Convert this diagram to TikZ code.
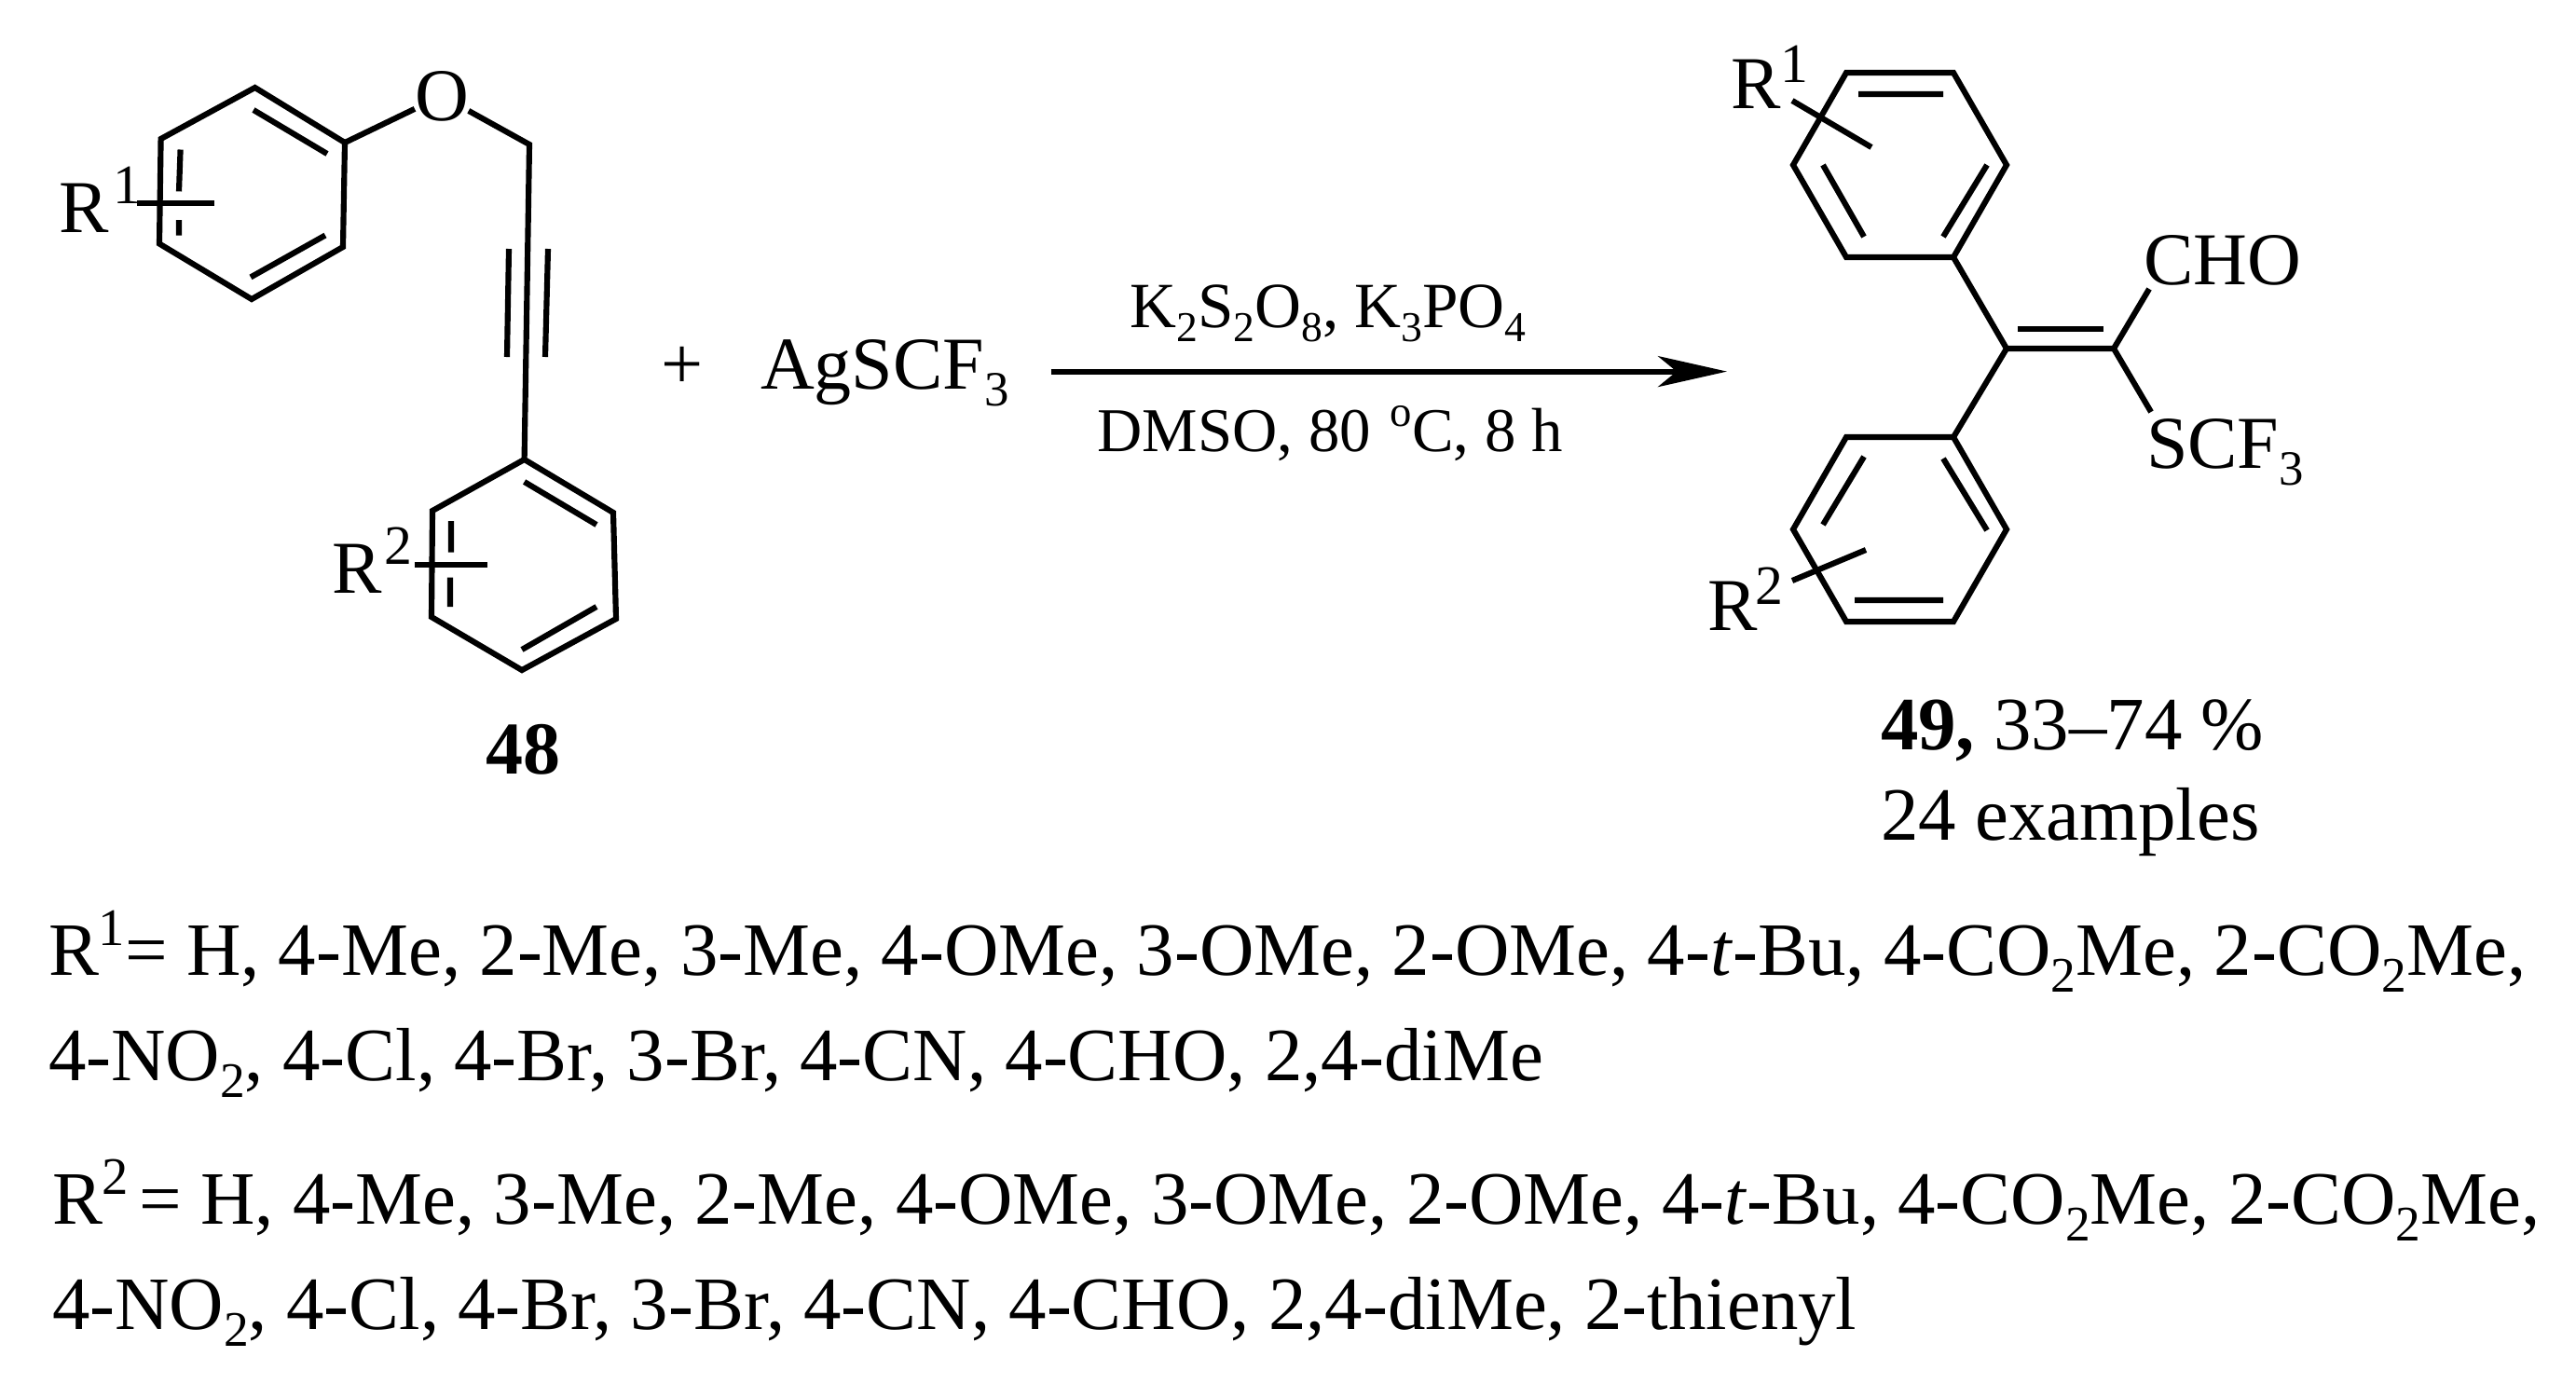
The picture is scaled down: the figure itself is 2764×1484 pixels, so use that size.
\documentclass[tikz,border=0pt]{standalone}
\usepackage{fontspec}
\usepackage{graphicx}
\setmainfont{Liberation Serif}
\usetikzlibrary{arrows.meta}
\newcommand{\chemsub}[1]{\raisebox{-.225em}{\scalebox{.66}{#1}}}
\newcommand{\chemsup}[1]{\raisebox{.39em}{\scalebox{.7}{#1}}}
\tikzset{
  bond/.style={line width=1.75pt,line join=miter,line cap=butt},
  lab/.style={anchor=base west,inner sep=0pt,outer sep=0pt,font=\fontsize{22.76pt}{26pt}\selectfont},
  digit/.style={anchor=base west,inner sep=0pt,outer sep=0pt,font=\fontsize{17pt}{19pt}\selectfont},
  listline/.style={anchor=base west,inner sep=0pt,outer sep=0pt,font=\fontsize{23pt}{26pt}\selectfont},
  reagent/.style={anchor=base west,inner sep=0pt,font=\fontsize{19.67pt}{24pt}\selectfont},
  reagentb/.style={anchor=base west,inner sep=0pt,font=\fontsize{19pt}{24pt}\selectfont},
  rxnarrow/.style={line width=1.7pt,-{Stealth[length=0.74cm,width=0.33cm,inset=0.2cm]}}
}
\begin{document}
\begin{tikzpicture}[x=0.01cm,y=-0.01cm]
\useasboundingbox (0,0) rectangle (2764,1484);
% ---- substrate 48: ring 1
\coordinate (a1) at (273.6,94);
\coordinate (a2) at (370,153);
\coordinate (a3) at (368,265);
\coordinate (a4) at (270,321);
\coordinate (a5) at (171,261.5);
\coordinate (a6) at (172.6,149);
\draw[bond] (a1)--(a2)--(a3)--(a4)--(a5)--(a6)--cycle;
\draw[bond] (272,118)--(351,165) (349,252.5)--(269,297.4) (193.6,160.5)--(192,205.4) (192,236)--(192,252.5);
\node[lab] (R1a) at (63,249) {R};
\node[digit] (R1asup) at (121,218) {1};
\coordinate (s1a) at (147,218);
\coordinate (s1b) at (230,218);
\draw[bond] (s1a)--(s1b);
% O and chain
\node[lab] (O) at (445,129) {O};
\coordinate (ch2) at (568,155);
\coordinate (b1) at (562.6,493);
\draw[bond] (a2)--(O);
\draw[bond] (O)--(ch2)--(b1);
\draw[bond] (546,267)--(544,383) (588,267)--(585,383);
% ring 2
\coordinate (b2) at (658,550);
\coordinate (b3) at (661,664);
\coordinate (b4) at (560,719);
\coordinate (b5) at (463,662);
\coordinate (b6) at (464,548);
\draw[bond] (b1)--(b2)--(b3)--(b4)--(b5)--(b6)--cycle;
\draw[bond] (562.6,517)--(640,563) (640,651)--(560,697) (484,559)--(484,592.6) (483,619.5)--(483,651);
\node[lab] (R2a) at (356,636) {R};
\node[digit] (R2asup) at (412,605) {2};
\coordinate (s2a) at (445,606);
\coordinate (s2b) at (523,606);
\draw[bond] (s2a)--(s2b);
\node[lab,font=\fontsize{22.76pt}{26pt}\selectfont\bfseries] (n48) at (521,830.5) {48};
% plus and reagent
\node[lab] (plus) at (709,417.5) {+};
\node[lab] (ag) at (816,417.5) {AgSCF\chemsub{3}};
% arrow
\coordinate (arrS) at (1127.6,398.6);
\coordinate (arrE) at (1853,398.6);
\draw[rxnarrow] (arrS)--(arrE);
\node[reagent] (cond1) at (1211.5,351) {K\chemsub{2}S\chemsub{2}O\chemsub{8}, K\chemsub{3}PO\chemsub{4}};
\node[reagentb] (cond2) at (1177,484) {DMSO, 80 \kern.06em\chemsup{o}C, 8 h};
% product: upper ring
\coordinate (c1) at (1981,78);
\coordinate (c2) at (2096,78);
\coordinate (c3) at (2153,177);
\coordinate (c4) at (2096,276);
\coordinate (c5) at (1981,276);
\coordinate (c6) at (1924,177);
\draw[bond] (c1)--(c2)--(c3)--(c4)--(c5)--(c6)--cycle;
\draw[bond] (1994,101)--(2085,101) (2132,177)--(2085,254) (1956,177)--(2000,254);
\node[lab] (R1b) at (1857,116) {R};
\node[digit] (R1bsup) at (1910,88) {1};
\coordinate (s3a) at (1923,108);
\coordinate (s3b) at (2008,158);
\draw[bond] (s3a)--(s3b);
% alkene
\coordinate (e1) at (2153,374);
\coordinate (e2) at (2268,374);
\draw[bond] (c4)--(e1)--(e2);
\draw[bond] (2165,353)--(2257,353);
\coordinate (d4) at (2096,469);
\draw[bond] (e1)--(d4);
% lower ring
\coordinate (d5) at (1981,469);
\coordinate (d6) at (1924,568);
\coordinate (d1) at (1981,667);
\coordinate (d2) at (2096,667);
\coordinate (d3) at (2153,568);
\draw[bond] (d4)--(d5)--(d6)--(d1)--(d2)--(d3)--cycle;
\draw[bond] (2085,492)--(2132,569) (2000,490)--(1956,563) (1990,644)--(2085,644);
\node[lab] (R2b) at (1832.5,676) {R};
\node[digit] (R2bsup) at (1883,648) {2};
\coordinate (s4a) at (1923,623);
\coordinate (s4b) at (2002,590);
\draw[bond] (s4a)--(s4b);
% substituents
\node[lab] (cho) at (2300,305) {CHO};
\node[lab] (scf) at (2303,502) {SCF\chemsub{3}};
\coordinate (choe) at (2306,310);
\coordinate (scfe) at (2308,442);
\draw[bond] (e2)--(choe);
\draw[bond] (e2)--(scfe);
% captions
\node[listline] (n49) at (2018,804) {\textbf{49,} 33–74 \%};
\node[listline] (ex) at (2018,901.5) {24 examples};
% lists
\node[listline] (l1) at (52,1046) {R\chemsup{1}= H, 4-Me, 2-Me, 3-Me, 4-OMe, 3-OMe, 2-OMe, 4-\textit{t}-Bu, 4-CO\chemsub{2}Me, 2-CO\chemsub{2}Me,};
\node[listline] (l2) at (52,1159) {4-NO\chemsub{2}, 4-Cl, 4-Br, 3-Br, 4-CN, 4-CHO, 2,4-diMe};
\node[listline] (l3) at (56,1313) {R\chemsup{2}\kern.14em= H, 4-Me, 3-Me, 2-Me, 4-OMe, 3-OMe, 2-OMe, 4-\textit{t}-Bu, 4-CO\chemsub{2}Me, 2-CO\chemsub{2}Me,};
\node[listline] (l4) at (56,1426.5) {4-NO\chemsub{2}, 4-Cl, 4-Br, 3-Br, 4-CN, 4-CHO, 2,4-diMe, 2-thienyl};
\end{tikzpicture}
\end{document}
